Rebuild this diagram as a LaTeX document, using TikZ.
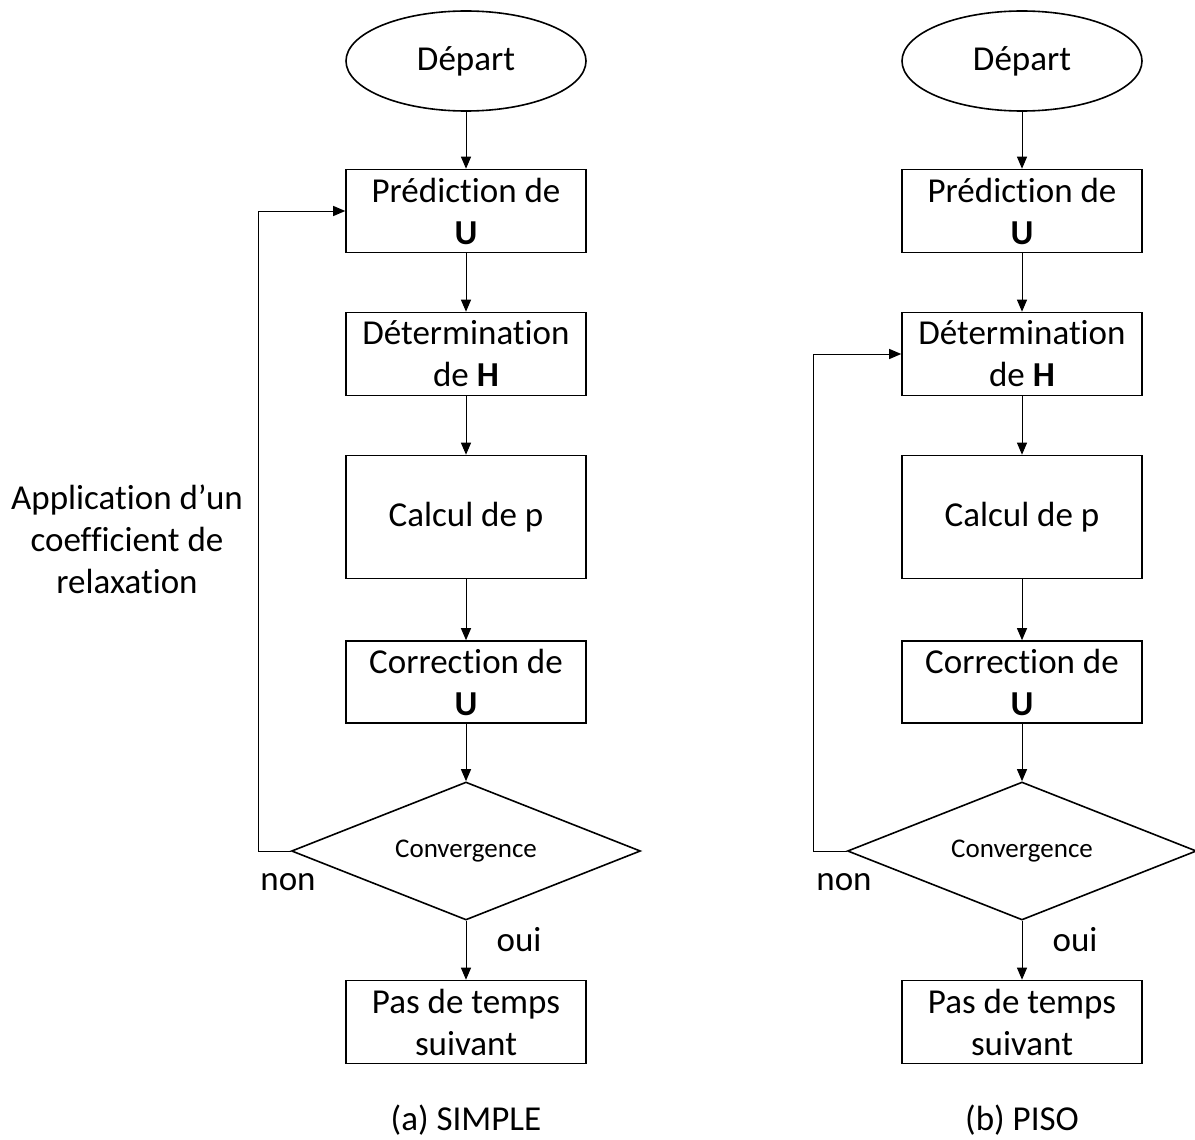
\documentclass[tikz,border=0pt]{standalone}
\usepackage{fontspec}
\setmainfont{Carlito}[Ligatures={TeX,NoCommon}]
\usetikzlibrary{shapes.geometric,arrows.meta}

\begin{document}
\begin{tikzpicture}[x=1pt,y=-1pt,
    etape/.style={shape=rectangle,draw,line width=1.6pt,minimum width=240pt,align=center,inner sep=0pt,font=\fontsize{35}{42}\selectfont},
    depart/.style={shape=ellipse,draw,line width=1.6pt,minimum width=240pt,minimum height=100pt,inner sep=0pt,font=\fontsize{35}{42}\selectfont},
    test/.style={shape=diamond,draw,line width=1.6pt,aspect=2.53,minimum width=349pt,minimum height=138pt,inner sep=0pt,font=\fontsize{27}{32}\selectfont},
    label/.style={font=\fontsize{35}{42}\selectfont,align=center},
    fleche/.style={-{Triangle[length=12pt,width=10pt]},line width=1pt}]
\useasboundingbox (0,0) rectangle (1195,1140);
%%%% Add nodes of SIMPLE
    \node[depart] (depA) at (466,61) {Départ};
    \node[etape,minimum height=83pt] (predA) at (466,211) {Prédiction de\\ \textbf{U}};
    \node[etape,minimum height=83pt] (detA) at (466,354) {Détermination\\ de \textbf{H}};
    \node[etape,minimum height=123pt] (calcA) at (466,517) {Calcul de p};
    \node[etape,minimum height=82pt] (corrA) at (466,682) {Correction de\\ \textbf{U}};
    \node[test] (convA) at (466,851) {Convergence};
    \node[etape,minimum height=83pt] (pasA) at (466,1022) {Pas de temps\\ suivant};
    \coordinate (boucleA) at (258,851);
%%%% Add edges of SIMPLE
    \draw[fleche] (depA) -- (predA);
    \draw[fleche] (predA) -- (detA);
    \draw[fleche] (detA) -- (calcA);
    \draw[fleche] (calcA) -- (corrA);
    \draw[fleche] (corrA) -- (convA);
    \draw[fleche] (convA) -- (pasA);
    \draw[fleche] (convA.west) -- (boucleA) |- (predA.west);
%%%% Add labels of SIMPLE
    \node[label] (relax) at (127,539) {Application d’un\\ coefficient de\\ relaxation};
    \node[label] (nonA) at (288,882) {non};
    \node[label] (ouiA) at (519,940) {oui};
    \node[label] (titreA) at (466,1120) {(a) SIMPLE};
%%%% Add nodes of PISO
    \node[depart] (depB) at (1022,61) {Départ};
    \node[etape,minimum height=83pt] (predB) at (1022,211) {Prédiction de\\ \textbf{U}};
    \node[etape,minimum height=83pt] (detB) at (1022,354) {Détermination\\ de \textbf{H}};
    \node[etape,minimum height=123pt] (calcB) at (1022,517) {Calcul de p};
    \node[etape,minimum height=82pt] (corrB) at (1022,682) {Correction de\\ \textbf{U}};
    \node[test] (convB) at (1022,851) {Convergence};
    \node[etape,minimum height=83pt] (pasB) at (1022,1022) {Pas de temps\\ suivant};
    \coordinate (boucleB) at (813,851);
%%%% Add edges of PISO
    \draw[fleche] (depB) -- (predB);
    \draw[fleche] (predB) -- (detB);
    \draw[fleche] (detB) -- (calcB);
    \draw[fleche] (calcB) -- (corrB);
    \draw[fleche] (corrB) -- (convB);
    \draw[fleche] (convB) -- (pasB);
    \draw[fleche] (convB.west) -- (boucleB) |- (detB.west);
%%%% Add labels of PISO
    \node[label] (nonB) at (844,882) {non};
    \node[label] (ouiB) at (1075,940) {oui};
    \node[label] (titreB) at (1022,1120) {(b) PISO};
\end{tikzpicture}
\end{document}
